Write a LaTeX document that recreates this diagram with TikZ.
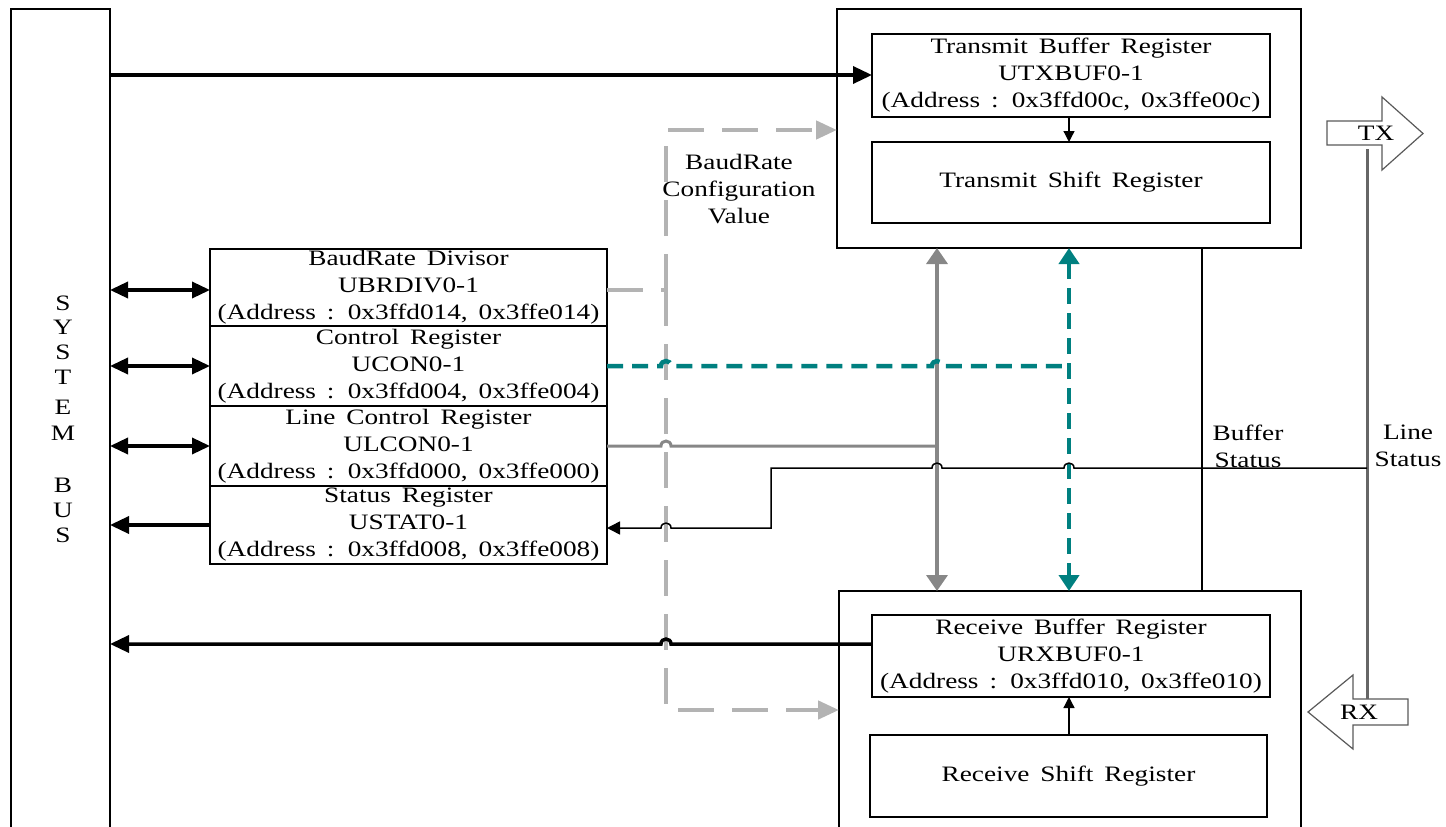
\documentclass[tikz,border=0pt]{standalone}
\usepackage{fontspec}
\setmainfont{Liberation Serif}[FakeStretch=1.24,WordSpace=1.6]
\usetikzlibrary{arrows.meta}

\definecolor{cfglight}{HTML}{B3B3B3}
\definecolor{ctlgray}{HTML}{878787}
\definecolor{ctlteal}{HTML}{008080}

\begin{document}
\begin{tikzpicture}[x=1pt,y=-1pt,
  every node/.style={font=\fontsize{22}{27}\selectfont},
  box/.style={draw, line width=1.3pt, inner sep=0pt, outer sep=0pt, align=center},
  regbox/.style={box, minimum width=397pt},
  label/.style={align=center, inner sep=0pt},
  busarrow/.style={line width=3.5pt, -{Triangle[length=19pt,width=17pt]}},
  busdbl/.style={line width=3.5pt, {Triangle[length=18pt,width=16pt]}-{Triangle[length=18pt,width=16pt]}},
  thinarrow/.style={line width=1.3pt, -{Triangle[length=11pt,width=11pt]}},
  cfgdash/.style={draw=cfglight, line width=4.5pt, dash pattern=on 36pt off 18pt},
  cfgtip/.style={cfgdash, -{Triangle[length=21pt,width=18pt,fill=cfglight]}},
  ctlline/.style={draw=ctlgray, line width=3pt},
  ctldbl/.style={draw=ctlgray, line width=3.5pt, {Triangle[length=16pt,width=21pt]}-{Triangle[length=16pt,width=21pt]}},
  tealdash/.style={draw=ctlteal, line width=4.5pt, dash pattern=on 16pt off 9pt},
  tealdbl/.style={tealdash, {Triangle[length=16pt,width=20pt]}-{Triangle[length=16pt,width=20pt]}},
  statline/.style={line width=1.5pt},
  statarrow/.style={statline, -{Triangle[length=13pt,width=13pt]}},
  pinline/.style={draw=black!60, line width=3pt},
  pinshape/.style={draw=black!65, line width=1.2pt}
]
\useasboundingbox (0,0) rectangle (1446,827);

% ---------- system bus ----------
\node[box, minimum width=99pt, minimum height=900pt] (bus) at (60.5,459) {};
\foreach \ch/\yy [count=\i] in {S/303,Y/327,S/352,T/377,E/407,M/433,B/485,U/510,S/535}
  \node[inner sep=0pt] (busltr\i) at (63,\yy) {\ch};

% ---------- transmit side ----------
\node[box, minimum width=464pt, minimum height=239pt] (txouter) at (1069,128.5) {};
\node[box, minimum width=398pt, minimum height=83pt] (txbuf) at (1071,75.5)
  {Transmit Buffer Register\\UTXBUF0-1\\(Address : 0x3ffd00c, 0x3ffe00c)};
\node[box, minimum width=398pt, minimum height=81pt] (txshift) at (1071,182.5)
  {Transmit Shift Register};

% ---------- receive side ----------
\node[box, minimum width=462pt, minimum height=300pt] (rxouter) at (1070,741) {};
\node[box, minimum width=398pt, minimum height=82pt] (rxbuf) at (1071,656)
  {Receive Buffer Register\\URXBUF0-1\\(Address : 0x3ffd010, 0x3ffe010)};
\node[box, minimum width=397pt, minimum height=82pt] (rxshift) at (1068.5,776)
  {Receive Shift Register};

% ---------- register block ----------
\node[regbox, minimum height=77pt] (ubrdiv) at (408.5,287.5)
  {BaudRate Divisor\\UBRDIV0-1\\(Address : 0x3ffd014, 0x3ffe014)};
\node[regbox, minimum height=80pt] (ucon) at (408.5,366)
  {Control Register\\UCON0-1\\(Address : 0x3ffd004, 0x3ffe004)};
\node[regbox, minimum height=80pt] (ulcon) at (408.5,446)
  {Line Control Register\\ULCON0-1\\(Address : 0x3ffd000, 0x3ffe000)};
\node[regbox, minimum height=78pt] (ustat) at (408.5,525)
  {Status Register\\USTAT0-1\\(Address : 0x3ffd008, 0x3ffe008)};

% ---------- labels ----------
\node[label] (cfgtxt) at (739,189.5) {BaudRate\\Configuration\\Value};
\node[label] (bufstat) at (1248,446) {Buffer\\Status};
\node[label] (linestat) at (1408,446) {Line\\Status};

% ---------- TX / RX pins ----------
\draw[pinshape] (1327,121) -- (1382,121) -- (1382,97) -- (1423,133.5) -- (1382,170)
  -- (1382,145) -- (1327,145) -- cycle;
\node[inner sep=0pt] (tx) at (1376,133) {TX};
\draw[pinshape] (1408,699) -- (1353,699) -- (1353,675) -- (1308,712) -- (1353,749)
  -- (1353,725) -- (1408,725) -- cycle;
\node[inner sep=0pt] (rx) at (1359,712) {RX};
\coordinate (txfoot) at (1367,149);
\coordinate (rxhead) at (1367,699);
\draw[pinline] (txfoot) -- (rxhead);

% ---------- baud rate configuration (dashed) ----------
\coordinate (cfgtop) at (666,130);
\coordinate (cfgbot) at (666,710);
\draw[cfgdash] (ubrdiv.east |- 0,290) -- (666,290);
\draw[cfgtip] (666,290) -- (cfgtop) -- (txouter.west |- cfgtop);
\draw[cfgtip] (666,290) -- (cfgbot) -- (rxouter.west |- cfgbot);

% ---------- system bus transfers ----------
\draw[busarrow] (bus.east |- 0,75) -- (txbuf.west |- 0,75);
\draw[busdbl] (bus.east |- 0,290) -- (ubrdiv.west |- 0,290);
\draw[busdbl] (bus.east |- ucon.west) -- (ucon.west);
\draw[busdbl] (bus.east |- ulcon.west) -- (ulcon.west);
\draw[busarrow] (ustat.west) -- (bus.east |- ustat.west);
\draw[busarrow] (rxbuf.west |- 0,644) -- (671,644)
  .. controls (671,637.4) and (661,637.4) .. (661,644) -- (bus.east |- 0,644);

% ---------- shift / buffer transfers ----------
\draw[thinarrow] (1069,0 |- txbuf.south) -- (1069,0 |- txshift.north);
\draw[thinarrow] (1069,0 |- rxshift.north) -- (1069,0 |- rxbuf.south);

% ---------- line control (gray) ----------
\draw[ctldbl] (937,0 |- txouter.south) -- (937,0 |- rxouter.north);
\draw[ctlline] (ulcon.east) -- (661,446)
  .. controls (661,439.4) and (671,439.4) .. (671,446) -- (937,446);

% ---------- control register (teal) ----------
\draw[tealdash] (ucon.east) -- (661,366)
  .. controls (661,359.4) and (671,359.4) .. (671,366) -- (932,366)
  .. controls (932,359.4) and (942,359.4) .. (942,366) -- (1069,366);
\draw[tealdbl] (txouter.south) -- (txouter.south |- rxouter.north);

% ---------- status lines ----------
\draw[statline] (1202,0 |- txouter.south) -- (1202,0 |- rxouter.north);
\draw[statarrow] (1367,468) -- (1074,468)
  .. controls (1074,461.4) and (1064,461.4) .. (1064,468) -- (942,468)
  .. controls (942,461.4) and (932,461.4) .. (932,468) -- (771,468) -- (771,528)
  -- (671,528) .. controls (671,521.4) and (661,521.4) .. (661,528)
  -- (ustat.east |- 0,528);
\end{tikzpicture}
\end{document}
